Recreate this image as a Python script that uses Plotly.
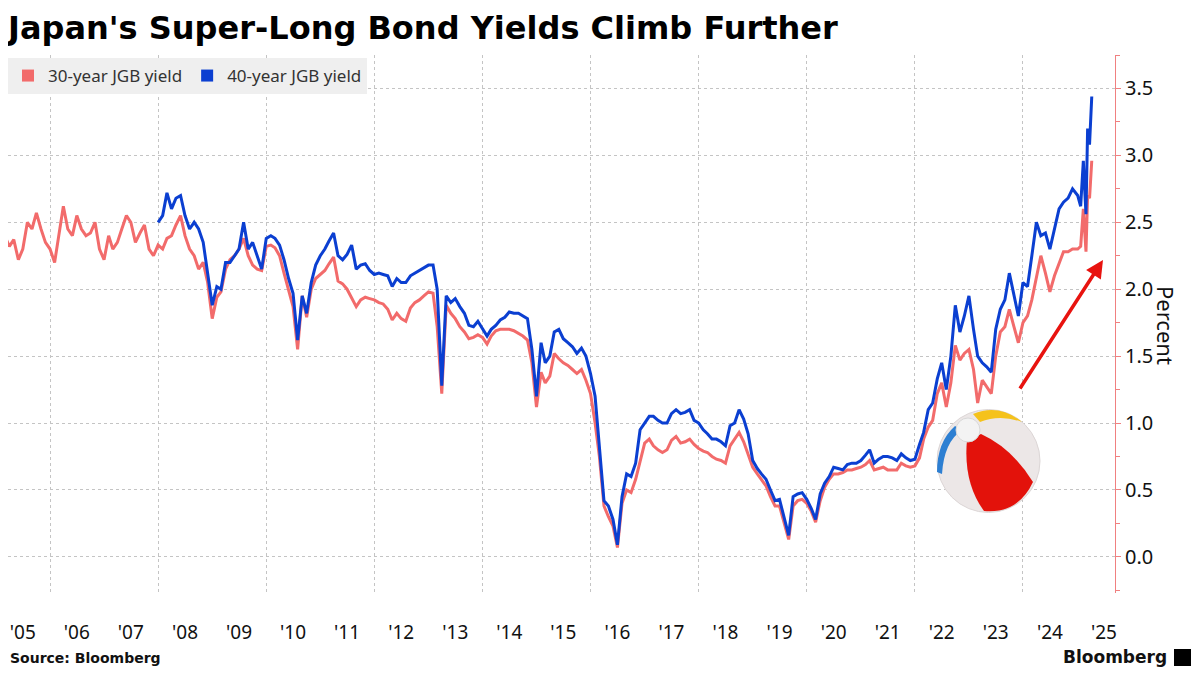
import plotly.graph_objects as go
import pandas as pd

# monthly readings (1st of month), 30-year JGB yield, Jan 2005 - Dec 2024
y30_monthly = [
    2.30, 2.45, 2.40, 2.32, 2.37, 2.22, 2.30, 2.50, 2.45, 2.57, 2.45, 2.35,  # 2005
    2.30, 2.20, 2.40, 2.62, 2.45, 2.40, 2.55, 2.45, 2.40, 2.42, 2.50, 2.30,  # 2006
    2.22, 2.40, 2.30, 2.35, 2.45, 2.55, 2.50, 2.35, 2.42, 2.48, 2.30, 2.25,  # 2007
    2.33, 2.30, 2.38, 2.40, 2.48, 2.55, 2.40, 2.30, 2.25, 2.15, 2.20, 2.05,  # 2008
    1.78, 1.94, 1.98, 2.15, 2.22, 2.25, 2.30, 2.38, 2.25, 2.18, 2.15, 2.14,  # 2009
    2.32, 2.33, 2.31, 2.25, 2.12, 2.00, 1.87, 1.55, 1.95, 1.79, 2.00, 2.08,  # 2010
    2.11, 2.14, 2.19, 2.24, 2.06, 2.04, 2.00, 1.94, 1.87, 1.92, 1.94, 1.93,  # 2011
    1.92, 1.90, 1.89, 1.85, 1.77, 1.82, 1.78, 1.76, 1.86, 1.90, 1.92, 1.95,  # 2012
    1.98, 1.97, 1.72, 1.22, 1.88, 1.82, 1.78, 1.72, 1.68, 1.63, 1.64, 1.66,  # 2013
    1.64, 1.59, 1.65, 1.69, 1.70, 1.70, 1.70, 1.69, 1.67, 1.65, 1.62, 1.45,  # 2014
    1.12, 1.38, 1.30, 1.35, 1.52, 1.48, 1.45, 1.43, 1.40, 1.37, 1.40, 1.32,  # 2015
    1.22, 1.00, 0.75, 0.38, 0.30, 0.23, 0.07, 0.40, 0.50, 0.48, 0.58, 0.72,  # 2016
    0.85, 0.88, 0.83, 0.80, 0.78, 0.80, 0.87, 0.90, 0.85, 0.86, 0.88, 0.84,  # 2017
    0.81, 0.79, 0.78, 0.75, 0.73, 0.72, 0.70, 0.83, 0.88, 0.93, 0.86, 0.77,  # 2018
    0.67, 0.62, 0.58, 0.53, 0.45, 0.38, 0.38, 0.25, 0.13, 0.38, 0.42, 0.43,  # 2019
    0.40, 0.34, 0.26, 0.42, 0.52, 0.58, 0.62, 0.62, 0.63, 0.65, 0.65, 0.66,  # 2020
    0.67, 0.69, 0.72, 0.65, 0.66, 0.67, 0.65, 0.65, 0.65, 0.70, 0.68, 0.67,  # 2021
    0.68, 0.74, 0.88, 0.97, 1.02, 1.22, 1.30, 1.12, 1.30, 1.58, 1.47, 1.52,  # 2022
    1.55, 1.40, 1.15, 1.32, 1.27, 1.22, 1.50, 1.68, 1.72, 1.85, 1.72, 1.60,  # 2023
    1.75, 1.80, 1.92, 2.10, 2.25, 2.12, 1.98, 2.10, 2.20, 2.28, 2.28, 2.30,  # 2024
]

# monthly readings, 40-year JGB yield, Jan 2008 - Dec 2024
y40_monthly = [
    2.50, 2.55, 2.72, 2.60, 2.68, 2.70, 2.55, 2.45, 2.50, 2.45, 2.35, 2.10,  # 2008
    1.88, 2.02, 2.00, 2.20, 2.20, 2.25, 2.30, 2.50, 2.30, 2.35, 2.25, 2.15,  # 2009
    2.38, 2.40, 2.38, 2.33, 2.22, 2.08, 1.97, 1.62, 1.95, 1.82, 2.05, 2.18,  # 2010
    2.25, 2.30, 2.36, 2.42, 2.25, 2.22, 2.26, 2.33, 2.15, 2.18, 2.19, 2.14,  # 2011
    2.11, 2.12, 2.11, 2.10, 2.02, 2.08, 2.05, 2.05, 2.10, 2.12, 2.14, 2.16,  # 2012
    2.18, 2.18, 2.00, 1.28, 1.95, 1.90, 1.93, 1.87, 1.82, 1.73, 1.72, 1.76,  # 2013
    1.70, 1.65, 1.70, 1.73, 1.77, 1.79, 1.83, 1.82, 1.82, 1.80, 1.78, 1.55,  # 2014
    1.20, 1.60, 1.45, 1.50, 1.68, 1.70, 1.63, 1.60, 1.57, 1.52, 1.56, 1.50,  # 2015
    1.37, 1.20, 0.80, 0.42, 0.38, 0.28, 0.09, 0.45, 0.62, 0.60, 0.70, 0.95,  # 2016
    1.00, 1.05, 1.05, 1.02, 1.00, 1.00, 1.07, 1.10, 1.07, 1.08, 1.10, 1.02,  # 2017
    1.00, 0.95, 0.92, 0.88, 0.88, 0.86, 0.83, 0.98, 1.00, 1.10, 1.03, 0.92,  # 2018
    0.72, 0.66, 0.62, 0.58, 0.50, 0.42, 0.43, 0.30, 0.16, 0.45, 0.47, 0.48,  # 2019
    0.43, 0.36, 0.28, 0.47, 0.55, 0.60, 0.67, 0.66, 0.65, 0.69, 0.70, 0.70,  # 2020
    0.72, 0.76, 0.80, 0.70, 0.73, 0.75, 0.75, 0.74, 0.72, 0.77, 0.74, 0.72,  # 2021
    0.73, 0.84, 0.93, 1.10, 1.15, 1.33, 1.45, 1.25, 1.50, 1.88, 1.68, 1.80,  # 2022
    1.95, 1.70, 1.50, 1.45, 1.42, 1.38, 1.70, 1.85, 1.92, 2.12, 1.95, 1.80,  # 2023
    2.05, 2.02, 2.25, 2.50, 2.40, 2.42, 2.30, 2.45, 2.60, 2.65, 2.68, 2.75,  # 2024
]

# 2025 moves are sharper, so read them more densely
tail_dates = ["2025-01-05", "2025-01-25", "2025-02-12", "2025-02-21",
              "2025-03-02", "2025-03-13", "2025-03-26", "2025-04-10"]
y30_tail = [2.30, 2.32, 2.60, 2.45, 2.28, 2.70, 2.68, 2.96]
y40_tail = [2.70, 2.62, 2.96, 2.75, 2.56, 3.20, 3.08, 3.44]

years = list(range(2005, 2026))
year_labels = ["'" + str(y)[2:] for y in years]
y_ticks = [0.0, 0.5, 1.0, 1.5, 2.0, 2.5, 3.0, 3.5]

dates30 = list(pd.date_range("2005-01-01", periods=len(y30_monthly), freq="MS")) + list(pd.to_datetime(tail_dates))
dates40 = list(pd.date_range("2008-01-01", periods=len(y40_monthly), freq="MS")) + list(pd.to_datetime(tail_dates))

RED = "#f26b6b"
BLUE = "#0b3fd1"
AXIS_RED = "#f08080"
GRID = "#c4c4c4"

# the page adds an 8px body margin, so the figure is drawn 8px smaller
# and every screen position below is given in window pixels minus OFF
OFF = 8
W, H = 1200 - 2 * OFF, 675 - 2 * OFF
L, R, T, B = 8, 1115, 55, 593          # plot area, window pixels


def px(x):
    return (x - L) / (R - L)


def py(y):
    return (B - y) / (B - T)


def path(cmds):
    out = []
    for c in cmds:
        if isinstance(c, str):
            out.append(c)
        else:
            out.append(f"{px(c[0]):.5f},{py(c[1]):.5f}")
    return " ".join(out)


fig = go.Figure()

fig.add_trace(go.Scatter(x=dates30, y=y30_monthly + y30_tail, mode="lines",
                         line=dict(color=RED, width=3), showlegend=False))
fig.add_trace(go.Scatter(x=dates40, y=y40_monthly + y40_tail, mode="lines",
                         line=dict(color=BLUE, width=3), showlegend=False))

# legend entries shown as squares
fig.add_trace(go.Scatter(x=[None], y=[None], mode="markers", name="30-year JGB yield",
                         marker=dict(symbol="square", size=12, color=RED)))
fig.add_trace(go.Scatter(x=[None], y=[None], mode="markers", name="40-year JGB yield",
                         marker=dict(symbol="square", size=12, color=BLUE)))

# beach ball
shapes = [
    dict(type="circle", xref="paper", yref="paper", x0=px(937), x1=px(1040), y0=py(512.5), y1=py(409.5),
         fillcolor="#ece7e7", line=dict(color="#dcd6d6", width=1), layer="above"),
    dict(type="path", xref="paper", yref="paper", layer="above", fillcolor="#e3120b", line=dict(width=0),
         path=path(["M", (967, 440), "Q", (963, 482), (984, 511), "Q", (1018, 514), (1033, 482),
                    "Q", (1012, 448), (981, 434), "Z"])),
    dict(type="path", xref="paper", yref="paper", layer="above", fillcolor="#2d7fd2", line=dict(width=0),
         path=path(["M", (955, 426), "Q", (937, 442), (937, 472), "L", (942, 474),
                    "Q", (944, 442), (962, 430), "Z"])),
    dict(type="path", xref="paper", yref="paper", layer="above", fillcolor="#f5c21b", line=dict(width=0),
         path=path(["M", (973, 414), "Q", (999, 403), (1022, 422), "Q", (1000, 414), (980, 422), "Z"])),
    dict(type="circle", xref="paper", yref="paper", x0=px(956), x1=px(980), y0=py(442), y1=py(418),
         fillcolor="#f3f3f3", line=dict(color="#d8d8d8", width=1), layer="above"),
    # small logo block next to "Bloomberg"
    dict(type="rect", xref="paper", yref="paper", x0=px(1174), x1=px(1191), y0=py(666), y1=py(649),
         fillcolor="black", line=dict(width=0)),
]

annotations = [
    dict(text="Percent", textangle=90, x=px(1183), y=py(325), xref="paper", yref="paper",
         showarrow=False, font=dict(family="Noto Sans", size=22, color="#111")),
    dict(text="<b>Source: Bloomberg</b>", x=px(8), y=py(658), xref="paper", yref="paper",
         xanchor="left", yanchor="middle", showarrow=False,
         font=dict(family="DejaVu Sans", size=14, color="#111")),
    dict(text="<b>Bloomberg</b>", x=px(1169), y=py(657), xref="paper", yref="paper",
         xanchor="right", yanchor="middle", showarrow=False,
         font=dict(family="DejaVu Sans", size=17, color="#111")),
    dict(text="", x=px(1103), y=py(260), xref="paper", yref="paper", showarrow=True,
         ax=-84, ay=130, arrowhead=2, arrowsize=1, arrowwidth=3.5, arrowcolor="#e8130f", standoff=0),
]

fig.update_layout(
    width=W, height=H,
    margin=dict(l=L - OFF, r=(1200 - OFF) - R, t=T - OFF, b=(675 - OFF) - B),
    plot_bgcolor="white", paper_bgcolor="white",
    title=dict(text="<b>Japan's Super-Long Bond Yields Climb Further</b>", xref="container", yref="container",
               x=0, xanchor="left", y=1 - (28 - OFF) / H, yanchor="middle",
               font=dict(family="DejaVu Sans", size=32, color="black")),
    legend=dict(orientation="h", x=0, y=py(58), xanchor="left", yanchor="top",
                bgcolor="#efefef", font=dict(family="Noto Sans", size=17, color="#333"),
                itemwidth=30, tracegroupgap=0),
    xaxis=dict(type="date", range=["2005-03-23", "2025-09-14"],
               tickvals=[f"{y}-07-01" for y in years], ticktext=year_labels,
               ticks="outside", ticklen=22, tickcolor="rgba(0,0,0,0)",
               tickfont=dict(family="Noto Sans", size=19, color="#111"),
               showgrid=False, zeroline=False, showline=False,
               minor=dict(tick0="2006-01-01", dtick="M24", showgrid=True, gridcolor=GRID,
                          griddash="dot", gridwidth=1, ticks="")),
    yaxis=dict(side="right", range=[-0.27, 3.75], tickvals=y_ticks, tickformat=".1f",
               showline=True, linecolor=AXIS_RED, linewidth=1,
               ticks="outside", tickcolor=AXIS_RED, ticklen=5,
               minor=dict(dtick=0.25, tick0=0, ticks="outside", ticklen=4, tickcolor=AXIS_RED),
               showgrid=True, gridcolor=GRID, griddash="dot", gridwidth=1, zeroline=False,
               tickfont=dict(family="Noto Sans", size=20, color="#111")),
    shapes=shapes,
    annotations=annotations,
)

fig.write_html("out.html")
